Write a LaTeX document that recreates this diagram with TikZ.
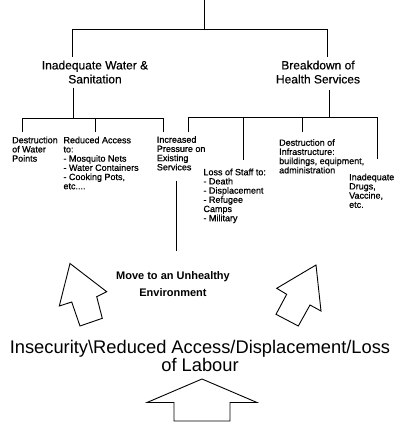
\documentclass[tikz,border=0pt]{standalone}
\usepackage{fontspec}
\setmainfont{Liberation Sans}
\begin{document}
\begin{tikzpicture}[x=1pt,y=-1pt,
  small/.style={font=\fontsize{9}{9.2}\selectfont\addfontfeature{FakeBold=0.8}, align=left, inner sep=0pt, anchor=north west},
  mid/.style={font=\fontsize{12}{14}\selectfont\addfontfeature{FakeBold=0.4}, align=center, inner sep=0pt, anchor=north},
  line/.style={draw=black, line width=0.9pt},
  blk/.style={draw=black, line width=0.9pt, line join=miter, fill=white}]
\useasboundingbox[fill=white] (0,0) rectangle (400,429);

% labels
\node[mid] (wat) at (95,60.5) {Inadequate Water \&\\Sanitation};
\node[mid] (hlth) at (318,60.5) {Breakdown of\\Health Services};

\node[small] (dwp) at (12,136.5) {Destruction\\of Water\\Points};
\node[small] (ra) at (63.3,136.5) {Reduced Access\\to:\\- Mosquito Nets\\- Water Containers\\- Cooking Pots,\\etc....};
\node[small] (ip) at (156.7,136) {Increased\\Pressure on\\Existing\\Services};
\node[small] (ls) at (203.3,168.5) {Loss of Staff to:\\- Death\\- Displacement\\- Refugee\\Camps\\- Military};
\node[small] (di) at (279,139) {Destruction of\\Infrastructure:\\buildings, equipment,\\administration};
\node[small] (id) at (349,173.5) {Inadequate\\Drugs,\\Vaccine,\\etc.};

\node[font=\bfseries\fontsize{11}{17}\selectfont, align=center, inner sep=0pt, anchor=north] (mv) at (173,271) {Move to an Unhealthy\\Environment};

\node[font=\fontsize{18.3}{18.5}\selectfont, align=center, inner sep=0pt, anchor=north] (ins) at (200,340) {Insecurity\textbackslash Reduced Access/Displacement/Loss\\of Labour};

% coordinates
\coordinate (top) at (204,0);
\coordinate (j0) at (204,29);
\coordinate (xa) at (72,0);
\coordinate (xb) at (327,0);
\coordinate (jl) at (73,118);
\coordinate (jr) at (329,117);
\coordinate (x22) at (22,0);
\coordinate (x95) at (95,0);
\coordinate (x163) at (163,0);
\coordinate (x188) at (188,0);
\coordinate (x243) at (243,0);
\coordinate (x302) at (302,0);
\coordinate (x377) at (377,0);
\coordinate (x176) at (176,0);

% top tree
\draw[line] (top) -- (j0);
\draw[line] (wat.north -| xa) ++(0,-3.5) |- (j0);
\draw[line] (hlth.north -| xb) ++(0,-3.5) |- (j0);

% left group
\draw[line] (wat.south -| jl) ++(0,4) -- (jl);
\draw[line] (dwp.north -| x22) ++(0,-4.5) |- (jl);
\draw[line] (ra.north -| x95) ++(0,-4.5) |- (jl);
\draw[line] (ip.north -| x163) ++(0,-4) |- (jl);

% right group
\draw[line] (hlth.south -| jr) ++(0,6) -- (jr);
\draw[line] (ip.north -| x188) ++(0,-4) |- (jr);
\draw[line] (ls.north -| x243) ++(0,-8.5) |- (jr);
\draw[line] (di.north -| x302) ++(0,-7) |- (jr);
\draw[line] (id.north -| x377) ++(0,-14.5) |- (jr);

% down to move
\draw[line, shorten >=20pt] (ip.south -| x176) ++(0,10) -- (mv.north -| x176);

% block arrows
\draw[blk] (70,263.5) -- (106.7,291.7) -- (96.7,296.7) -- (102.3,318.3) -- (80,326) -- (71.7,302) -- (59.3,306) -- cycle;
\draw[blk] (316,265) -- (321,311) -- (310,305) -- (298.3,326) -- (276,314.3) -- (286.7,294.3) -- (276.7,288.3) -- cycle;
\draw[blk] (202,379) -- (257,402.5) -- (230,402.5) -- (230,421) -- (174,421) -- (174,402.5) -- (147,402.5) -- cycle;
\end{tikzpicture}
\end{document}
